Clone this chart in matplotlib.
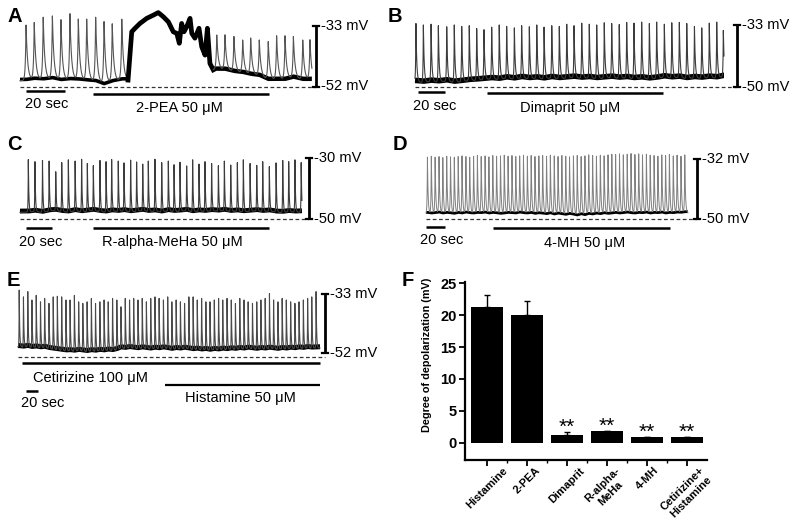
import numpy as np
import matplotlib
matplotlib.use('Agg')
import matplotlib.pyplot as plt

plt.rcParams['font.family'] = ['Liberation Sans', 'DejaVu Sans']

# ---------------- data ----------------
# Panel A (2-PEA)
A_pre_times = [3.1, 7.3, 11.9, 16.6, 21.0, 25.6, 29.9, 34.2, 38.8, 43.1, 47.3, 52.2]
A_pre_peaks = [-32.8, -32.1, -30.4, -30.0, -31.2, -29.3, -31.0, -31.0, -30.4, -31.8, -32.5, -31.0]
A_pre_troughs = [-50.2, -49.8, -50.0, -49.6, -50.2, -49.9, -50.0, -50.3, -50.5, -51.5, -50.6, -50.0]
A_plateau_t = [55.4, 57.3, 59.0, 61.5, 65.0, 68.4, 70.9, 73.5, 76.1, 78.6, 80.4, 81.7,
               82.9, 84.1, 85.5, 87.2, 88.1, 89.7, 91.8, 93.2, 94.9, 96.1, 97.4, 99.1]
A_plateau_v = [-50.0, -34.9, -33.8, -32.3, -30.7, -29.7, -28.9, -30.2, -31.8, -34.9, -35.4, -38.5,
               -32.3, -34.9, -33.3, -30.7, -35.4, -36.9, -33.8, -39.6, -42.2, -33.8, -44.8, -46.8]
A_post_times = [100.9, 105.1, 109.7, 114.2, 118.3, 122.7, 127.3, 131.6, 135.9, 140.2, 145.0, 148.7]
A_post_peaks = [-35.9, -35.9, -36.4, -37.5, -36.9, -37.5, -38.0, -36.2, -36.2, -36.4, -37.5, -37.5]
A_post_troughs = [-46.8, -46.8, -47.5, -47.8, -48.4, -48.7, -50.0, -50.0, -50.0, -49.3, -50.0, -50.0]
A_end = 149.7

# Panel B (Dimaprit)
B_times = [0.7, 6.2, 11.9, 17.3, 23.5, 29.1, 34.6, 40.2, 45.7, 51.1, 56.8, 62.4, 67.9, 73.6,
           79.0, 84.7, 90.2, 95.6, 101.3, 106.9, 112.4, 117.8, 123.5, 129.1, 134.6, 140.2,
           145.7, 151.3, 156.8, 162.2, 167.9, 173.6, 179.0, 184.7, 190.2, 195.8, 201.3,
           207.0, 212.4, 218.0, 223.5, 228.4]
B_peaks = [-32.6, -33.0, -32.8, -33.2, -33.5, -33.0, -33.4, -33.2, -34.0, -34.3, -33.6, -33.0,
           -33.4, -33.8, -33.2, -33.5, -33.0, -33.6, -33.2, -33.4, -32.8, -33.2, -32.5, -32.8,
           -33.0, -32.4, -32.6, -32.9, -32.3, -32.5, -32.2, -32.6, -32.2, -32.8, -32.4, -32.3,
           -32.6, -33.4, -33.8, -32.5, -32.2, -34.5]
B_troughs = [-48.6, -48.8, -48.5, -48.7, -48.4, -48.8, -48.6, -48.3, -48.2, -48.0, -47.8, -48.0,
             -47.6, -47.9, -47.5, -47.8, -47.6, -47.9, -47.5, -47.8, -47.6, -47.4, -47.7, -47.5,
             -47.8, -47.6, -47.4, -47.7, -47.5, -47.8, -47.6, -47.9, -47.7, -47.3, -47.6, -47.4,
             -47.8, -47.5, -47.7, -47.4, -47.6, -47.2]
B_end = 228.9

# Panel C (R-alpha-MeHa)
C_times = [6.4, 11.5, 17.3, 22.4, 27.5, 32.1, 37.2, 42.4, 47.4, 51.8, 56.4, 61.5, 66.2, 70.5,
           75.6, 80.0, 85.1, 89.7, 94.4, 98.7, 103.8, 109.0, 114.1, 118.5, 123.1, 128.2, 132.8,
           137.7, 142.3, 147.4, 152.6, 157.2, 162.1, 167.2, 171.8, 177.0, 182.1, 186.7, 191.8,
           197.0, 202.1, 206.7, 211.5, 216.3]
C_peaks = [-30.5, -31.2, -30.8, -31.0, -34.5, -31.5, -30.6, -31.0, -30.4, -31.8, -32.5, -30.8,
           -31.2, -30.5, -31.0, -31.6, -30.7, -31.3, -32.0, -31.0, -30.4, -31.5, -31.0, -32.2,
           -31.4, -32.6, -30.6, -32.0, -31.2, -31.8, -32.5, -31.0, -32.3, -31.5, -30.6, -31.8,
           -32.4, -31.2, -32.8, -31.6, -30.8, -31.2, -30.6, -31.5]
C_troughs = [-47.8, -47.5, -47.9, -47.4, -47.2, -47.6, -47.8, -47.3, -47.7, -47.5, -47.2, -47.6,
             -47.8, -47.4, -47.6, -47.3, -47.7, -47.5, -47.2, -47.6, -47.4, -47.8, -47.3, -47.6,
             -47.5, -47.2, -47.7, -47.4, -47.6, -47.3, -47.5, -47.2, -47.6, -47.4, -47.7, -47.5,
             -47.3, -47.6, -47.4, -47.8, -47.9, -47.6, -47.8, -47.7]
C_end = 216.9

# Panel D (4-MH)
D_times = [1.5, 5.6, 9.6, 13.7, 17.7, 21.8, 25.8, 29.8, 33.9, 37.9, 42.0, 46.0, 50.1, 54.1,
           58.1, 62.2, 66.2, 70.3, 74.3, 78.4, 82.4, 86.4, 90.5, 94.5, 98.6, 102.6, 106.7,
           110.7, 114.7, 118.8, 122.8, 126.9, 130.9, 135.0, 139.0, 143.0, 147.1, 151.1, 155.2,
           159.2, 163.3, 167.3, 171.3, 175.4, 179.4, 183.5, 187.5, 191.6, 195.6, 199.6, 203.7,
           207.7, 211.8, 215.8, 219.9, 223.9, 227.9, 232.0, 236.0, 240.1, 244.1, 248.2, 252.2,
           256.2, 260.3, 264.3, 268.4, 272.4]
D_peaks = [-31.4, -31.2, -31.5, -31.3, -31.6, -31.2, -31.4, -31.5, -31.3, -31.1,
           -31.3, -31.5, -31.2, -31.0, -31.3, -31.1, -31.4, -31.0, -31.2, -31.1,
           -30.9, -31.2, -31.0, -31.3, -31.1, -30.9, -31.2, -31.0, -31.3, -31.1,
           -31.0, -31.2, -30.9, -31.1, -31.3, -31.0, -31.2, -31.4, -31.1, -31.0,
           -31.3, -31.1, -30.8, -31.0, -31.2, -30.9, -31.1, -30.8, -30.6, -30.7,
           -30.5, -30.8, -30.6, -30.4, -30.7, -30.5, -30.8, -30.6, -30.9, -31.0,
           -31.2, -30.8, -31.0, -30.7, -31.1, -30.9, -31.2, -30.8]
D_troughs = [-48.4, -48.6, -48.5, -48.3, -48.6, -48.4, -48.5, -48.7, -48.4, -48.6,
             -48.3, -48.5, -48.6, -48.4, -48.5, -48.3, -48.6, -48.4, -48.5, -48.7,
             -48.6, -48.4, -48.5, -48.6, -48.3, -48.5, -48.6, -48.4, -48.7, -48.5,
             -48.6, -48.8, -48.5, -48.9, -48.6, -48.8, -49.0, -48.7, -48.9, -49.2,
             -48.8, -49.1, -48.7, -48.9, -48.6, -48.8, -48.5, -48.7, -48.6, -48.4,
             -48.6, -48.5, -48.3, -48.5, -48.6, -48.4, -48.5, -48.3, -48.6, -48.4,
             -48.5, -48.3, -48.6, -48.4, -48.5, -48.3, -48.4, -48.2]
D_end = 275.8

# Panel E (Cetirizine + Histamine)
E_times = [2.0, 9.1, 16.3, 23.2, 30.4, 37.5, 44.4, 51.6, 58.7, 65.6, 72.8, 79.9, 86.8, 94.0,
           101.1, 108.0, 115.2, 122.3, 129.2, 136.4, 143.5, 150.4, 157.6, 164.7, 171.6, 178.8,
           185.9, 192.8, 200.0, 207.1, 214.0, 221.2, 228.3, 235.2, 242.4, 249.5, 256.4, 263.6,
           270.7, 277.6, 284.8, 291.9, 298.8, 306.0, 313.1, 320.0, 327.2, 334.3, 341.2, 348.4,
           355.5, 362.4, 369.6, 376.7, 383.6, 390.8, 397.9, 404.8, 412.0, 419.1, 426.0, 433.2,
           440.3, 447.2, 454.4, 461.5, 468.4, 475.6, 482.7, 489.6, 496.8]
E_peaks = [-31.7, -33.9, -32.2, -34.9, -33.4, -35.5, -34.4, -36.0, -33.9, -33.7, -33.9, -34.9,
           -34.9, -33.4, -35.5, -36.0, -35.5, -34.4, -36.0, -35.5, -34.9, -35.5, -34.4, -34.9,
           -37.1, -34.4, -34.9, -34.4, -34.9, -34.4, -35.5, -34.4, -33.9, -34.4, -34.9, -33.9,
           -35.5, -34.9, -35.5, -36.0, -33.9, -33.9, -34.9, -34.4, -35.5, -35.5, -34.9, -34.4,
           -34.9, -34.4, -34.9, -36.0, -34.4, -34.9, -35.5, -36.0, -35.5, -34.9, -34.4, -32.8,
           -34.9, -35.5, -34.4, -34.9, -35.5, -36.0, -35.5, -34.9, -34.4, -33.9, -32.2]
E_troughs = [-50.0, -50.2, -49.9, -50.3, -50.1, -50.4, -50.2, -50.6, -50.8, -51.0, -51.2, -51.4,
             -51.3, -51.5, -51.2, -51.4, -51.6, -51.3, -51.5, -51.2, -51.4, -51.1, -51.3, -51.0,
             -50.4, -50.6, -50.3, -50.5, -50.7, -50.4, -50.6, -50.8, -50.5, -50.7, -50.4, -50.6,
             -50.9, -50.6, -50.8, -50.5, -50.7, -51.0, -50.8, -51.1, -50.9, -51.2, -50.9, -51.1,
             -50.8, -51.0, -50.7, -50.9, -50.6, -50.8, -50.5, -50.7, -50.9, -50.6, -50.8, -50.5,
             -50.7, -50.9, -50.6, -50.8, -50.5, -50.7, -50.4, -50.6, -50.3, -50.5, -50.4]
E_end = 503.3

# Panel F (bar chart)
F_labels = ['Histamine', '2-PEA', 'Dimaprit', 'R-alpha-\nMeHa', '4-MH', 'Cetirizine+\nHistamine']
F_means = [21.3, 20.0, 1.25, 1.9, 1.0, 1.0]
F_errs = [1.8, 2.2, 0.45, 0.0, 0.0, 0.0]
F_signif = ['', '', '**', '**', '**', '**']
F_yticks = [0, 5, 10, 15, 20, 25]

# ---------------- figure ----------------
W, H = 797, 527
fig = plt.figure(figsize=(W / 100, H / 100), dpi=100)

SPIKE_C = '#3c3c3c'


def trace_axes(box, t0_px, px_per_s, vref_px, vref, px_per_mV):
    l, t, r, b = box
    ax = fig.add_axes([l / W, 1 - b / H, (r - l) / W, (b - t) / H])
    ax.set_xlim((l - t0_px) / px_per_s, (r - t0_px) / px_per_s)
    ax.set_ylim(vref - (b - vref_px) / px_per_mV, vref + (vref_px - t) / px_per_mV)
    ax.axis('off')
    return ax


def spike_trace(times, peaks, troughs, t_start, t_end, tau_r, tau_d, dt=0.02):
    n = min(len(times), len(peaks), len(troughs))
    times, peaks, troughs = times[:n], peaks[:n], troughs[:n]
    tt = np.arange(t_start, t_end, dt)
    base = np.interp(tt, times, troughs)
    v = base.copy()
    for ti, p, tr in zip(times, peaks, troughs):
        s = tt - ti
        k = np.where(s < 0, np.exp(np.clip(s / tau_r, -50, 0)), np.exp(-np.clip(s, 0, None) / tau_d))
        v += (p - tr) * k
    return tt, v, base


def draw_spikes(ax, times, peaks, troughs, t_start, t_end, tau_r, tau_d, color=SPIKE_C,
                lw=0.8, base_lw=2.6):
    tt, v, base = spike_trace(times, peaks, troughs, t_start, t_end, tau_r, tau_d)
    ax.plot(tt, base + 0.4, color='black', lw=base_lw, solid_capstyle='butt')
    ax.plot(tt, v, color=color, lw=lw)


def scale_bar(ax, t, v_top, v_bot, half_w, lbl_t, top_txt, bot_txt, fs=10.5):
    ax.plot([t, t], [v_bot, v_top], color='black', lw=2.0, solid_capstyle='butt', clip_on=False)
    for vv in (v_top, v_bot):
        ax.plot([t - half_w, t + half_w], [vv, vv], color='black', lw=1.6, clip_on=False)
    ax.text(lbl_t, v_top, top_txt, ha='left', va='center', fontsize=fs)
    ax.text(lbl_t, v_bot, bot_txt, ha='left', va='center', fontsize=fs)


def dashed(ax, t0, t1, v):
    ax.plot([t0, t1], [v, v], color='#333333', lw=0.9, ls=(0, (3, 2)), clip_on=False)


def hbar(ax, t0, t1, v, lw=1.8):
    ax.plot([t0, t1], [v, v], color='black', lw=lw, solid_capstyle='butt', clip_on=False)


TXT = 10.5

# ----- Panel A -----
axA = trace_axes((0, 0, 398, 125), 20, 1.95, 86.5, -52, 3.2)
dashed(axA, 0, 151.8, -52)
draw_spikes(axA, A_pre_times, A_pre_peaks, A_pre_troughs, 0, A_plateau_t[0], 0.35, 0.8,
            color='#555555', base_lw=2.6)
axA.plot(A_plateau_t, A_plateau_v, color='black', lw=3.4, solid_joinstyle='round')
draw_spikes(axA, A_post_times, A_post_peaks, A_post_troughs, A_plateau_t[-1], A_end, 0.35, 0.8,
            color='#555555', base_lw=3.2)
scale_bar(axA, 151.8, -33, -52, 1.6, 154.4, '-33 mV', '-52 mV')
hbar(axA, 3.1, 23.1, -53.4)
axA.text(13.8, -57.4, '20 sec', ha='center', va='center', fontsize=TXT)
hbar(axA, 37.4, 127.7, -54.3)
axA.text(82, -58.6, '2-PEA 50 μM', ha='center', va='center', fontsize=TXT)

# ----- Panel B -----
axB = trace_axes((400, 0, 797, 125), 415, 1.35, 87, -50, 3.65)
dashed(axB, 0, 238.5, -50)
draw_spikes(axB, B_times, B_peaks, B_troughs, 0, B_end, 0.25, 0.6, base_lw=4.0)
scale_bar(axB, 238.5, -33, -50, 2.2, 242.2, '-33 mV', '-50 mV')
hbar(axB, 2.2, 22.2, -51.4)
axB.text(14.8, -55.3, '20 sec', ha='center', va='center', fontsize=TXT)
hbar(axB, 53.3, 183.7, -51.6)
axB.text(114.8, -55.8, 'Dimaprit 50 μM', ha='center', va='center', fontsize=TXT)

# ----- Panel C -----
axC = trace_axes((0, 130, 398, 255), 20, 1.3, 219, -50, 3.05)
dashed(axC, 0, 222.3, -50)
draw_spikes(axC, C_times, C_peaks, C_troughs, 0, C_end, 0.18, 0.4, base_lw=3.5)
scale_bar(axC, 222.3, -30, -50, 2.3, 226.2, '-30 mV', '-50 mV')
hbar(axC, 4.6, 24.6, -53.0)
axC.text(16.2, -57.5, '20 sec', ha='center', va='center', fontsize=TXT)
hbar(axC, 56.2, 191.5, -53.0)
axC.text(116.9, -57.5, 'R-alpha-MeHa 50 μM', ha='center', va='center', fontsize=TXT)

# ----- Panel D -----
axD = trace_axes((400, 130, 797, 255), 426, 0.95, 219, -50, 3.33)
dashed(axD, 0, 285.3, -50)
draw_spikes(axD, D_times, D_peaks, D_troughs, 0, D_end, 0.35, 0.7, color='#808080', lw=0.7, base_lw=2.0)
scale_bar(axD, 285.3, -32, -50, 3.2, 290.5, '-32 mV', '-50 mV')
hbar(axD, 0, 20, -52.4)
axD.text(16.8, -56.3, '20 sec', ha='center', va='center', fontsize=TXT)
hbar(axD, 70.5, 256.8, -52.7)
axD.text(167.4, -57.2, '4-MH 50 μM', ha='center', va='center', fontsize=TXT)

# ----- Panel E -----
axE = trace_axes((0, 265, 398, 415), 18, 0.6, 353, -52, 3.1)
dashed(axE, 0, 511.7, -53.3)
draw_spikes(axE, E_times, E_peaks, E_troughs, 0, E_end, 0.3, 0.8, color='#4a4a4a', base_lw=3.6)
scale_bar(axE, 511.7, -33, -52, 5.0, 520, '-33 mV', '-52 mV')
hbar(axE, 6.7, 503.3, -55.2)
axE.text(25, -60.1, 'Cetirizine 100 μM', ha='left', va='center', fontsize=TXT)
hbar(axE, 245, 503.3, -62.3, lw=1.6)
axE.text(370, -66.5, 'Histamine 50 μM', ha='center', va='center', fontsize=TXT)
hbar(axE, 13.3, 33.3, -64.3)
axE.text(5, -68.1, '20 sec', ha='left', va='center', fontsize=TXT)

# ----- Panel F -----
axF = fig.add_axes([465 / W, 1 - 460 / H, 242 / W, 178 / H])
xs = np.arange(len(F_labels))
axF.bar(xs, F_means, width=0.8, color='black')
axF.errorbar(xs, F_means, yerr=[np.zeros(len(xs)), F_errs], fmt='none', ecolor='black',
             elinewidth=1.0, capsize=2.2, capthick=1.0)
for xi, m, e, s in zip(xs, F_means, F_errs, F_signif):
    if s:
        axF.text(xi, m + e - 0.15, s, ha='center', va='baseline', fontsize=15)
axF.set_xlim(-0.54, 5.5)
axF.set_ylim(-2.66, 25.16)
axF.set_yticks(F_yticks)
axF.set_yticklabels([str(v) for v in F_yticks], fontsize=10.5, fontweight='bold')
axF.set_xticks(xs)
axF.set_xticks(xs[:-1] + 0.5, minor=True)
axF.set_xticklabels(F_labels, rotation=45, ha='center', va='top', rotation_mode='default',
                    fontsize=8, fontweight='bold', multialignment='center')
axF.tick_params(axis='both', which='major', direction='out', length=4, width=1.3, pad=2)
axF.tick_params(axis='x', which='major', pad=0)
axF.tick_params(axis='x', which='minor', direction='out', length=2, width=1.0)
for sp in ('top', 'right'):
    axF.spines[sp].set_visible(False)
for sp in ('left', 'bottom'):
    axF.spines[sp].set_linewidth(1.6)
axF.set_ylabel('Degree of depolarization (mV)', fontsize=7.8, fontweight='bold')
axF.yaxis.set_label_coords(-0.136, 0.59)

# panel letters
for letter, (px, py) in zip('ABCDEF', [(7, 17), (388, 17), (7, 145), (393, 145), (7, 281), (402, 281)]):
    fig.text(px / W, 1 - py / H, letter, fontsize=14.5, fontweight='bold', ha='left', va='center')

fig.savefig('out.png', dpi=100)
